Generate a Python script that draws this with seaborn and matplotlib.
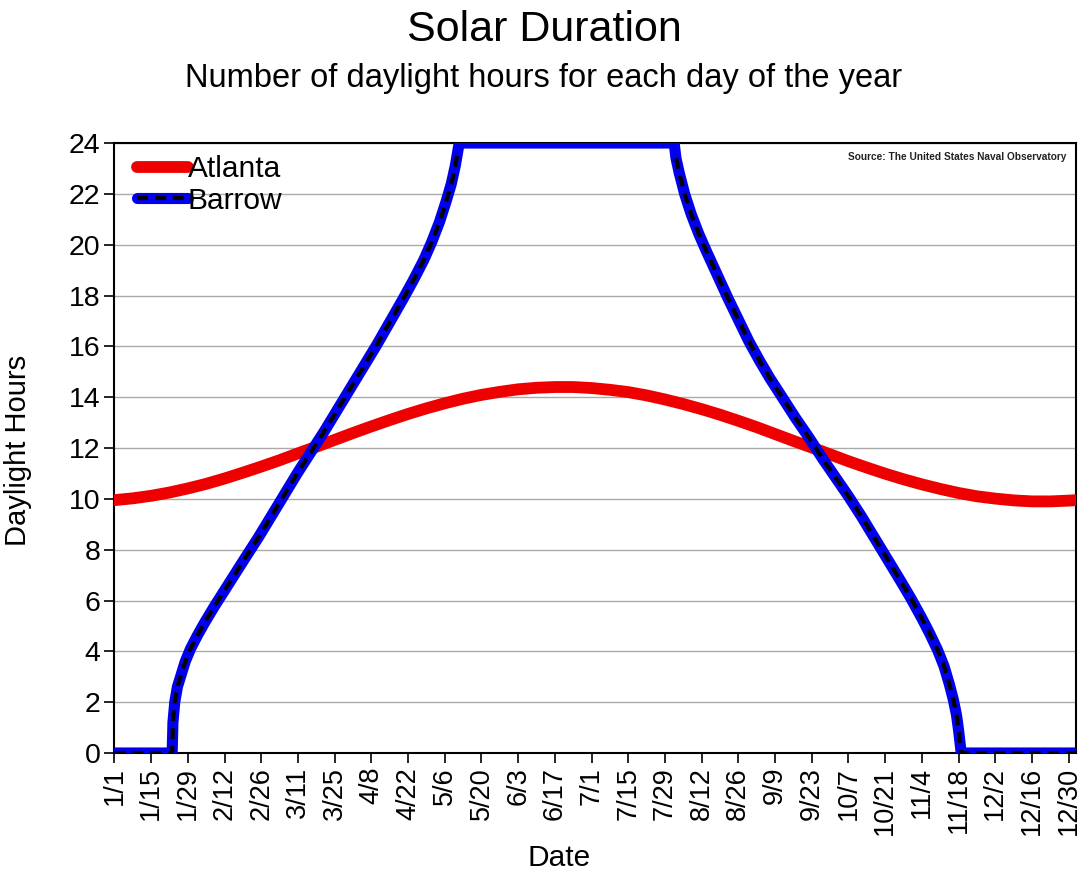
import numpy as np
import pandas as pd
import matplotlib
matplotlib.use("Agg")
import matplotlib.pyplot as plt
import seaborn as sns

# Datos (día del año 2008, 0 = 1/1) y horas de luz
dias_atlanta = [0, 7, 14, 21, 28, 35, 42, 49, 56, 63, 70, 77, 84, 91, 98, 105,
                112, 119, 126, 133, 140, 147, 154, 161, 168, 175, 182, 189, 196,
                203, 210, 217, 224, 231, 238, 245, 252, 259, 266, 273, 280, 287,
                294, 301, 308, 315, 322, 329, 336, 343, 350, 357, 364, 367]
horas_atlanta = [9.95, 10.02, 10.12, 10.25, 10.41, 10.59, 10.80, 11.03, 11.27,
                 11.52, 11.79, 12.05, 12.32, 12.59, 12.85, 13.10, 13.34, 13.56,
                 13.76, 13.94, 14.09, 14.21, 14.31, 14.37, 14.40, 14.40, 14.36,
                 14.29, 14.20, 14.07, 13.91, 13.73, 13.53, 13.31, 13.07, 12.82,
                 12.55, 12.28, 12.02, 11.75, 11.48, 11.23, 10.99, 10.77, 10.57,
                 10.39, 10.23, 10.10, 10.01, 9.94, 9.90, 9.90, 9.93, 9.95]

dias_barrow = [0, 22.0, 22.3, 23.0, 24.0, 25.5, 27.0, 29.0, 31.5, 34.5, 38.0,
               42.0, 46.0, 50.0, 55.0, 60.0, 65.0, 70.0, 75.0, 80.0, 85.0, 90.0,
               95.0, 100.0, 105.0, 110.0, 114.0, 118.0, 121.0, 124.0, 126.5,
               128.5, 130.0, 131.0, 131.5,
               213.5, 214.2, 215.5, 217.5, 220.0, 223.0, 226.0, 230.0, 234.0,
               238.0, 242.0, 246.0, 250.0, 255.0, 260.0, 265.0, 270.0, 275.0,
               280.0, 285.0, 290.0, 295.0, 300.0, 304.0, 308.0, 311.0, 314.0,
               316.5, 318.5, 320.0, 321.2, 322.0, 323.0, 367]
horas_barrow = [0, 0, 1.2, 2.0, 2.6, 3.1, 3.6, 4.1, 4.6, 5.15, 5.75,
                6.4, 7.05, 7.7, 8.5, 9.35, 10.2, 11.05, 11.85, 12.65, 13.5, 14.35,
                15.2, 16.05, 16.95, 17.85, 18.6, 19.4, 20.1, 20.9, 21.7,
                22.4, 23.1, 23.7, 24.0,
                24.0, 23.4, 22.8, 22.0, 21.2, 20.4, 19.7, 18.8, 17.9,
                17.05, 16.2, 15.45, 14.75, 13.95, 13.15, 12.4, 11.6, 10.85,
                10.1, 9.3, 8.45, 7.6, 6.75, 6.05, 5.3, 4.7, 4.05,
                3.4, 2.7, 2.1, 1.5, 0.9, 0, 0]

etiquetas_x = ["1/1", "1/15", "1/29", "2/12", "2/26", "3/11", "3/25", "4/8",
               "4/22", "5/6", "5/20", "6/3", "6/17", "7/1", "7/15", "7/29",
               "8/12", "8/26", "9/9", "9/23", "10/7", "10/21", "11/4", "11/18",
               "12/2", "12/16", "12/30"]
ticks_x = list(range(0, 365, 14))
ticks_y = list(range(0, 25, 2))

sns.set_style("white")
plt.rcParams['font.family'] = ['Liberation Sans', 'DejaVu Sans']
plt.rcParams['text.color'] = 'black'
plt.rcParams['xtick.color'] = 'black'
plt.rcParams['ytick.color'] = 'black'

fig = plt.figure(figsize=(10.8, 8.77), dpi=100)
ax = fig.add_axes([0.106, 0.1414, 0.8903, 0.6955])

df_a = pd.DataFrame({"dia": dias_atlanta, "horas": horas_atlanta})
df_b = pd.DataFrame({"dia": dias_barrow, "horas": horas_barrow})
# la línea discontinua no se ve sobre el tope de 24 h
dash_b = df_b["horas"].where(df_b["horas"] < 24)

sns.lineplot(data=df_a, x="dia", y="horas", ax=ax, color="#ee0000",
             linewidth=8.5, sort=False, zorder=3, solid_joinstyle="round")
sns.lineplot(data=df_b, x="dia", y="horas", ax=ax, color="#0000ee",
             linewidth=8, sort=False, zorder=4, solid_joinstyle="round")
ax.plot(df_b["dia"], dash_b, color="black", linewidth=3, zorder=5,
        dashes=(2.6, 1.7))

ax.set_xlim(0, 366.8)
ax.set_ylim(0, 24)
ax.set_xticks(ticks_x)
ax.set_xticklabels(etiquetas_x, rotation=90, fontsize=19.5)
ax.set_yticks(ticks_y)
ax.set_yticklabels([str(t) for t in ticks_y], fontsize=20.5)
ax.tick_params(axis="both", direction="out", length=7, width=1.2,
               color="black", bottom=True, left=True, pad=3)
ax.yaxis.grid(True, color="#aaaaaa", linewidth=1)
ax.xaxis.grid(False)
for s in ax.spines.values():
    s.set_color("black")
    s.set_linewidth(1.5)
ax.set_xlabel("")
ax.set_ylabel("")

# Leyenda
h_atl, = ax.plot([], [], color="#ee0000", linewidth=8.5, solid_capstyle="round")
h_bar, = ax.plot([], [], color="#0000ee", linewidth=8, solid_capstyle="round")
h_dash, = ax.plot([], [], color="black", linewidth=3, dashes=(2.6, 1.7))
ax.legend([h_atl, (h_bar, h_dash)], ["Atlanta", "Barrow"], loc="upper left",
          bbox_to_anchor=(0.017, 0.99), frameon=False, fontsize=21.5,
          handlelength=1.7, handletextpad=0.0, labelspacing=0.12,
          borderaxespad=0.0, borderpad=0.2)

ax.text(0.99, 0.985, "Source: The United States Naval Observatory",
        transform=ax.transAxes, ha="right", va="top", fontsize=7.3,
        fontweight="bold", color="#222222")

fig.text(0.504, 0.966, "Solar Duration", ha="center", va="center", fontsize=31)
fig.text(0.503, 0.911, "Number of daylight hours for each day of the year",
         ha="center", va="center", fontsize=23.5)
fig.text(0.017, 0.486, "Daylight Hours", rotation=90, ha="center",
         va="center", fontsize=21)
fig.text(0.518, 0.022, "Date", ha="center", va="center", fontsize=21.5)

fig.savefig("out.png", dpi=100)
